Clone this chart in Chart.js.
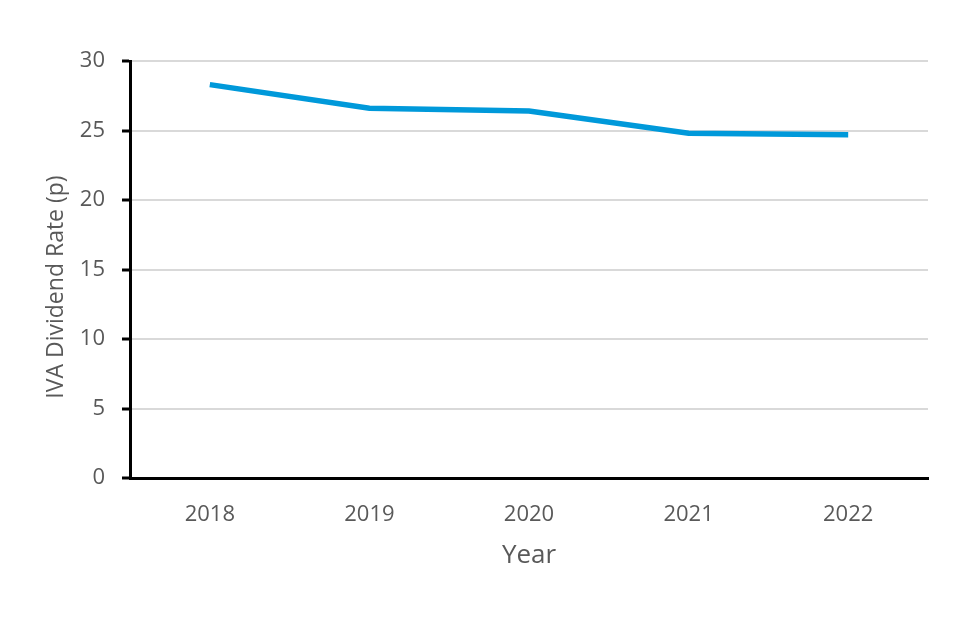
<!DOCTYPE html>
<html>
<head>
<meta charset="utf-8">
<script src="https://cdn.jsdelivr.net/npm/chart.js@4"></script>
<style>
  body { margin: 0; background: #fff; }
  #wrap { width: 960px; height: 640px; }
</style>
</head>
<body>
<div id="wrap"><canvas id="dividendChart" width="960" height="640"></canvas></div>
<script>
const years = ['2018', '2019', '2020', '2021', '2022'];
const dividendRate = [28.3, 26.6, 26.4, 24.8, 24.7];
const yTitle = 'IVA Dividend Rate (p)';
const xTitle = 'Year';

const fontFamily = "'Open Sans', sans-serif";
const textColor = '#595959';

// y-axis title, drawn by hand so it can sit a bit below the plot centre
const yTitlePlugin = {
  id: 'yTitle',
  afterDraw(chart) {
    const ctx = chart.ctx;
    ctx.save();
    ctx.translate(56, 287);
    ctx.rotate(-Math.PI / 2);
    ctx.font = '23px ' + fontFamily;
    ctx.fillStyle = textColor;
    ctx.textAlign = 'center';
    ctx.textBaseline = 'middle';
    ctx.fillText(yTitle, 0, 0);
    ctx.restore();
  }
};

const ctx = document.getElementById('dividendChart');

new Chart(ctx, {
  type: 'line',
  data: {
    labels: years,
    datasets: [{
      label: 'IVA Dividend Rate',
      data: dividendRate,
      borderColor: 'rgb(0, 153, 218)',
      borderWidth: 5.5,
      pointRadius: 0,
      tension: 0,
      fill: false
    }]
  },
  options: {
    responsive: false,
    animation: false,
    layout: {
      padding: { left: 0, right: 32, top: 61, bottom: 0 }
    },
    plugins: {
      legend: { display: false },
      tooltip: { enabled: false }
    },
    scales: {
      x: {
        offset: true,
        afterFit: (scale) => { scale.height = 162; },
        grid: { display: false, drawTicks: false },
        border: { display: true, color: '#000', width: 3 },
        ticks: {
          padding: 24,
          color: textColor,
          font: { family: fontFamily, size: 22 }
        },
        title: {
          display: true,
          text: xTitle,
          color: textColor,
          font: { family: fontFamily, size: 26 },
          padding: { top: 0, bottom: 69 }
        }
      },
      y: {
        min: 0,
        max: 30,
        afterFit: (scale) => { scale.width = 130; },
        grid: {
          color: '#d9d9d9',
          lineWidth: 2,
          tickColor: '#000',
          tickLength: 8,
          tickWidth: 3
        },
        border: { color: '#000', width: 3 },
        ticks: {
          stepSize: 5,
          padding: 17,
          color: textColor,
          font: { family: fontFamily, size: 22 }
        }
      }
    }
  },
  plugins: [yTitlePlugin]
});
</script>
</body>
</html>
